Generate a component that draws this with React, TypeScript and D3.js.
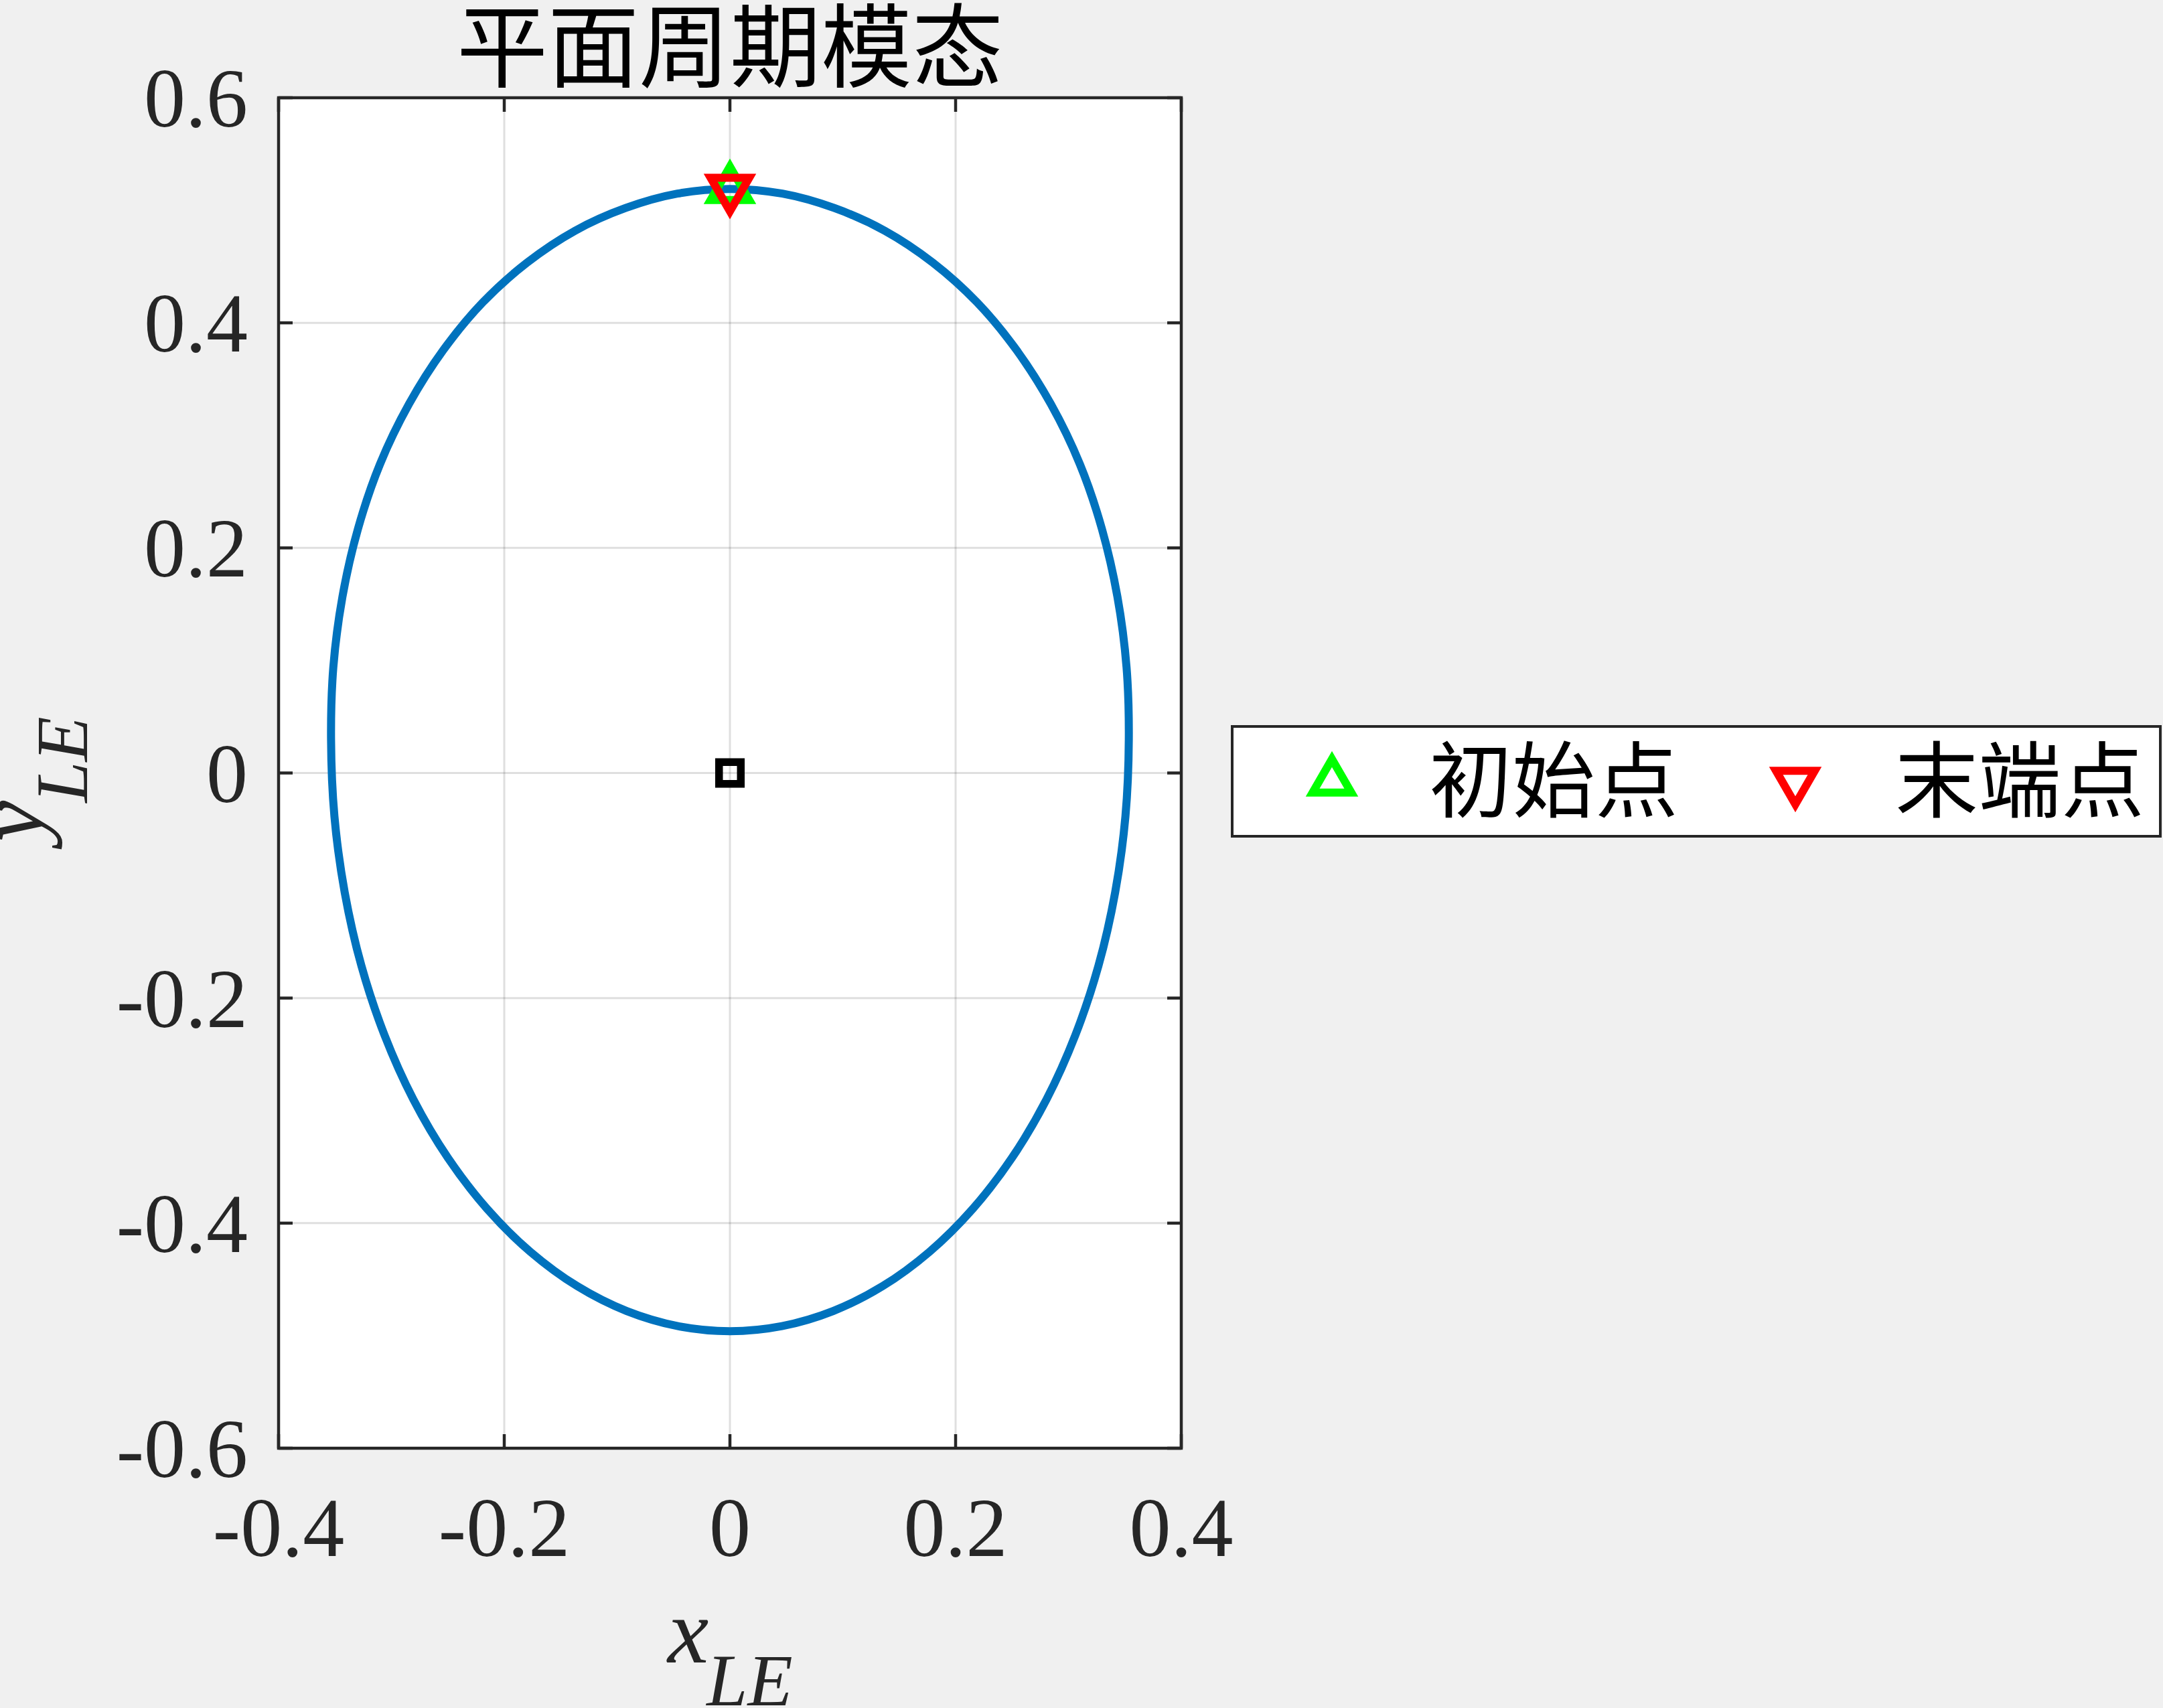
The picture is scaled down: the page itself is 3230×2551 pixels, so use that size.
import * as d3 from 'd3'

// trajectory (right half top→bottom, then left half bottom→top)
const pathX = [
  0, 0.0465, 0.0925, 0.1373, 0.1798, 0.2192, 0.254, 0.2845, 0.3101, 0.3296, 0.3434, 0.3515, 0.3535, 0.3505,
  0.3414, 0.3266, 0.3061, 0.2805, 0.25, 0.2152, 0.1768, 0.1353, 0.0915, 0.0461, 0, -0.0461, -0.0915, -0.1353,
  -0.1768, -0.2152, -0.25, -0.2805, -0.3061, -0.3266, -0.3414, -0.3505, -0.3535, -0.3515, -0.3434, -0.3296,
  -0.3101, -0.2845, -0.254, -0.2192, -0.1798, -0.1373, -0.0925, -0.0465,
]
const pathY = [
  0.519, 0.5148, 0.502, 0.4818, 0.4535, 0.418, 0.3758, 0.3277, 0.2745, 0.2171, 0.1566, 0.0938, 0.03, -0.0386,
  -0.1061, -0.1713, -0.233, -0.2902, -0.3419, -0.3873, -0.4255, -0.456, -0.4781, -0.4915, -0.496, -0.4915,
  -0.4781, -0.456, -0.4255, -0.3873, -0.3419, -0.2902, -0.233, -0.1713, -0.1061, -0.0386, 0.03, 0.0938, 0.1566,
  0.2171, 0.2745, 0.3277, 0.3758, 0.418, 0.4535, 0.4818, 0.502, 0.5148,
]
const startPoint = [0, 0.519]
const endPoint = [0, 0.519]
const centerPoint = [0, 0]

const xTicks = [-0.4, -0.2, 0, 0.2, 0.4]
const xTickLabels = ['-0.4', '-0.2', '0', '0.2', '0.4']
const yTicks = [-0.6, -0.4, -0.2, 0, 0.2, 0.4, 0.6]
const yTickLabels = ['-0.6', '-0.4', '-0.2', '0', '0.2', '0.4', '0.6']

const title = '平面周期模态'
const legendLabels = ['初始点', '末端点']

const W = 3230
const H = 2551
const PLOT = {left: 416, right: 1764, top: 146, bottom: 2163}
const AXIS = '#262626'
const SERIF = '"Liberation Serif", "Times New Roman", serif'
const CJK = '"Noto Sans CJK SC", "Noto Sans CJK JP", sans-serif'
const TICK_LEN = 21
const MARK_W = 12

const triPath = (cx: number, cy: number, h: number, up: boolean) => {
  // h = path height, centred at centroid
  const s = h / Math.sqrt(3) // half side
  const d = up ? 1 : -1
  const apexY = cy - (d * 2 * h) / 3
  const baseY = cy + (d * h) / 3
  return `M${cx},${apexY}L${cx + s},${baseY}L${cx - s},${baseY}Z`
}

export default function App() {
  const x = d3.scaleLinear().domain([-0.4, 0.4]).range([PLOT.left, PLOT.right])
  const y = d3.scaleLinear().domain([-0.6, 0.6]).range([PLOT.bottom, PLOT.top])

  const pts: [number, number][] = pathX.map((v, i) => [v, pathY[i]])
  const line = d3
    .line<[number, number]>()
    .x(d => x(d[0]))
    .y(d => y(d[1]))
    .curve(d3.curveCatmullRomClosed.alpha(0.5))

  const triH = 50
  const sq = 32.5

  return (
    <svg
      width={W}
      height={H}
      style={{position: 'absolute', left: 0, top: 0, display: 'block'}}
      xmlns="http://www.w3.org/2000/svg">
      <rect x={0} y={0} width={W} height={H} fill="#f0f0f0" />
      <rect
        x={PLOT.left}
        y={PLOT.top}
        width={PLOT.right - PLOT.left}
        height={PLOT.bottom - PLOT.top}
        fill="#ffffff"
      />

      {/* grid */}
      {xTicks.map((t, i) => (
        <line
          key={'gx' + i}
          x1={x(t)}
          x2={x(t)}
          y1={PLOT.top}
          y2={PLOT.bottom}
          stroke={AXIS}
          strokeOpacity={0.15}
          strokeWidth={3}
        />
      ))}
      {yTicks.map((t, i) => (
        <line
          key={'gy' + i}
          x1={PLOT.left}
          x2={PLOT.right}
          y1={y(t)}
          y2={y(t)}
          stroke={AXIS}
          strokeOpacity={0.15}
          strokeWidth={3}
        />
      ))}

      {/* trajectory */}
      <path d={line(pts) || ''} fill="none" stroke="#0072BD" strokeWidth={12} strokeLinejoin="round" />

      {/* markers */}
      <path
        d={triPath(x(startPoint[0]), y(startPoint[1]), triH, true)}
        fill="none"
        stroke="#00ff00"
        strokeWidth={MARK_W}
      />
      <path
        d={triPath(x(endPoint[0]), y(endPoint[1]), triH, false)}
        fill="none"
        stroke="#ff0000"
        strokeWidth={MARK_W}
      />
      <rect
        x={x(centerPoint[0]) - sq / 2}
        y={y(centerPoint[1]) - sq / 2}
        width={sq}
        height={sq}
        fill="none"
        stroke="#000000"
        strokeWidth={11.5}
      />

      {/* ticks */}
      {xTicks.map((t, i) => (
        <g key={'tx' + i}>
          <line x1={x(t)} x2={x(t)} y1={PLOT.bottom} y2={PLOT.bottom - TICK_LEN} stroke={AXIS} strokeWidth={4.5} />
          <line x1={x(t)} x2={x(t)} y1={PLOT.top} y2={PLOT.top + TICK_LEN} stroke={AXIS} strokeWidth={4.5} />
          <text x={x(t)} y={PLOT.bottom + 161} textAnchor="middle" fontFamily={SERIF} fontSize={124} fill={AXIS}>
            {xTickLabels[i]}
          </text>
        </g>
      ))}
      {yTicks.map((t, i) => (
        <g key={'ty' + i}>
          <line x1={PLOT.left} x2={PLOT.left + TICK_LEN} y1={y(t)} y2={y(t)} stroke={AXIS} strokeWidth={4.5} />
          <line x1={PLOT.right} x2={PLOT.right - TICK_LEN} y1={y(t)} y2={y(t)} stroke={AXIS} strokeWidth={4.5} />
          <text x={370} y={y(t) + 43} textAnchor="end" fontFamily={SERIF} fontSize={124} fill={AXIS}>
            {yTickLabels[i]}
          </text>
        </g>
      ))}

      {/* frame */}
      <rect
        x={PLOT.left}
        y={PLOT.top}
        width={PLOT.right - PLOT.left}
        height={PLOT.bottom - PLOT.top}
        fill="none"
        stroke={AXIS}
        strokeWidth={4.5}
      />

      {/* title */}
      <text x={x(0)} y={120} textAnchor="middle" fontFamily={CJK} fontSize={136} fill="#000">
        {title}
      </text>

      {/* axis labels */}
      <text x={997} y={2483} fontFamily={SERIF} fontStyle="italic" fontSize={138} fill={AXIS}>
        x
        <tspan dy={64} dx={-3} fontSize={110}>
          LE
        </tspan>
      </text>
      <text
        transform="translate(64,1257) rotate(-90)"
        fontFamily={SERIF}
        fontStyle="italic"
        fontSize={138}
        fill={AXIS}>
        y
        <tspan dy={66} dx={-3} fontSize={110}>
          LE
        </tspan>
      </text>

      {/* legend */}
      <rect x={1840} y={1085} width={1386} height={164} fill="#ffffff" stroke={AXIS} strokeWidth={4} />
      <path d={triPath(1989, 1167, triH, true)} fill="none" stroke="#00ff00" strokeWidth={MARK_W} />
      <text x={2134} y={1211} fontFamily={CJK} fontSize={124} fill="#000">
        {legendLabels[0]}
      </text>
      <path d={triPath(2681, 1168, triH, false)} fill="none" stroke="#ff0000" strokeWidth={MARK_W} />
      <text x={2830} y={1211} fontFamily={CJK} fontSize={124} fill="#000">
        {legendLabels[1]}
      </text>
    </svg>
  )
}
